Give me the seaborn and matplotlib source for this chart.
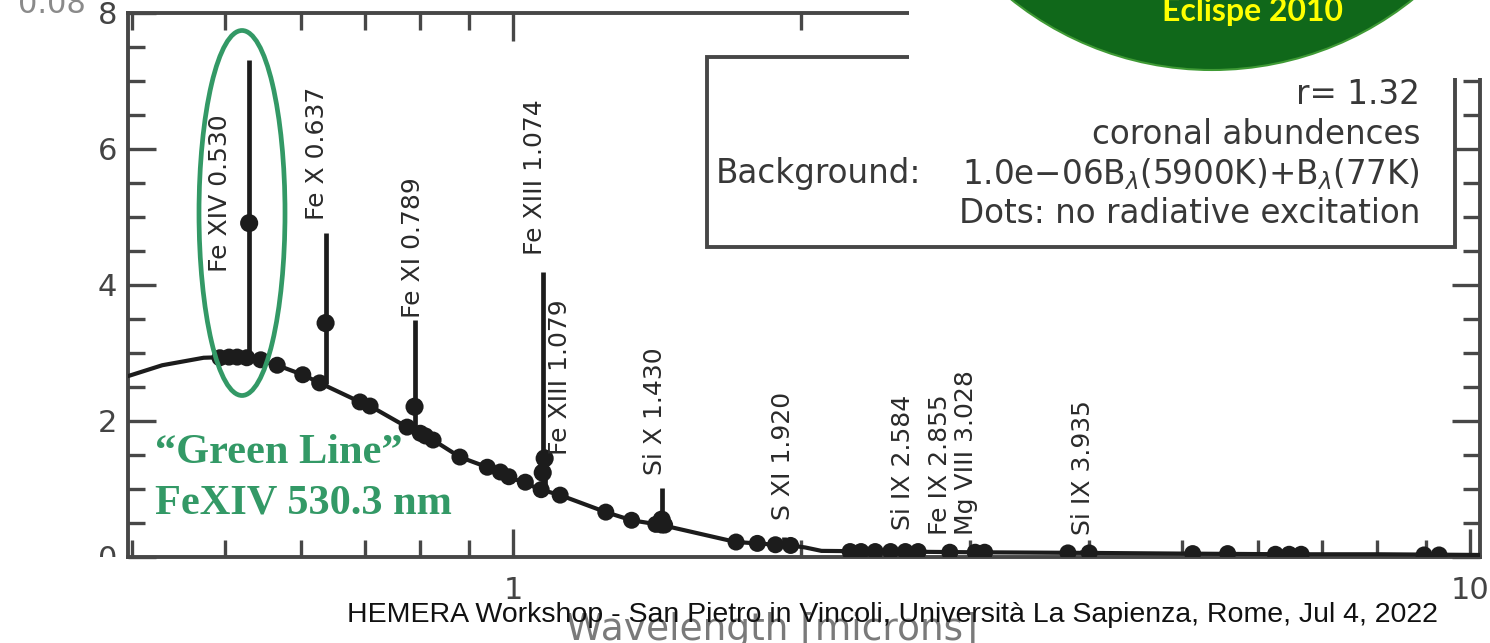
import numpy as np
import matplotlib
matplotlib.use("Agg")
import matplotlib.pyplot as plt
import seaborn as sns
from matplotlib.patches import Rectangle, Ellipse
from matplotlib.ticker import LogLocator, MultipleLocator, NullFormatter

# ---------------------------------------------------------------- data
# model continuum (wavelength in microns, brightness)
cont_wl = [0.396, 0.43, 0.475, 0.50, 0.527, 0.567, 0.603, 0.628, 0.692, 0.709,
           0.775, 0.825, 0.88, 0.94, 0.99, 1.07, 1.12, 1.25, 1.33, 1.43,
           1.71, 1.80, 1.88, 1.95, 2.02, 2.10, 2.5, 3.0, 4.0, 5.0, 6.5, 8.0, 10.24]
cont_val = [2.66, 2.82, 2.93, 2.94, 2.93, 2.82, 2.68, 2.56, 2.28, 2.22,
            1.91, 1.72, 1.47, 1.32, 1.18, 0.99, 0.91, 0.66, 0.54, 0.47,
            0.22, 0.20, 0.18, 0.17, 0.14, 0.09, 0.08, 0.07, 0.06, 0.05, 0.04, 0.04, 0.03]

# weak lines sitting on the continuum
weak_wl = [0.494, 0.505, 0.515, 0.527, 0.545, 0.567, 0.603, 0.628, 0.692, 0.709,
           0.775, 0.80, 0.81, 0.825, 0.88, 0.94, 0.97, 0.99, 1.03, 1.07, 1.12,
           1.25, 1.33, 1.41, 1.43, 1.44, 1.71, 1.80, 1.88, 1.95,
           2.25, 2.31, 2.39, 2.48, 2.57, 2.65, 2.86, 3.04, 3.11, 3.80, 4.00,
           5.13, 5.58, 6.26, 6.47, 6.66, 8.95, 9.28]
weak_val = [2.93, 2.94, 2.94, 2.93, 2.90, 2.82, 2.68, 2.56, 2.28, 2.22,
            1.91, 1.82, 1.78, 1.72, 1.47, 1.32, 1.25, 1.18, 1.10, 0.99, 0.91,
            0.66, 0.54, 0.48, 0.47, 0.47, 0.22, 0.20, 0.18, 0.17,
            0.08, 0.08, 0.08, 0.08, 0.08, 0.08, 0.07, 0.07, 0.07, 0.06, 0.06,
            0.05, 0.05, 0.04, 0.04, 0.04, 0.03, 0.03]

# strong coronal lines
line_names = ["Fe XIV 0.530", "Fe X 0.637", "Fe XI 0.789", "Fe XIII 1.074",
              "Fe XIII 1.079", "Si X 1.430", "S XI 1.920", "Si IX 2.584",
              "Fe IX 2.855", "Mg VIII 3.028", "Si IX 3.935"]
line_wl = [0.530, 0.637, 0.789, 1.074, 1.079, 1.430, 1.920, 2.584, 2.855, 3.028, 3.935]
line_base = [2.93, 2.55, 1.90, 1.00, 0.99, 0.47, 0.17, 0.08, 0.08, 0.08, 0.07]
line_top = [7.31, 4.76, 3.49, 4.19, 1.50, 1.01, 0.30, 0.12, 0.12, 0.12, 0.10]
# intensities without radiative excitation (dots on the lines)
norad_wl = [0.530, 0.637, 0.789, 1.074, 1.079, 1.430]
norad_val = [4.91, 3.44, 2.21, 1.24, 1.45, 0.55]

y_ticks = [0, 2, 4, 6, 8]
x_ticks = [1, 10]
x_tick_labels = ["1", "10"]

legend_lines = ["r= 1.32", "coronal abundences",
                "1.0e\u221206B$_\\lambda$(5900K)+B$_\\lambda$(77K)",
                "Dots: no radiative excitation"]
background_label = "Background:"
footer = "HEMERA Workshop - San Pietro in Vincoli, Universit\u00e0 La Sapienza, Rome, Jul 4, 2022"

# ---------------------------------------------------------------- layout
W, H, DPI = 1490, 643, 100
# label anchors (wavelength, lower end of the rotated text)
label_pos = [(0.494, 4.19), (0.624, 4.96), (0.786, 3.51), (1.054, 4.44),
             (1.12, 1.50), (1.407, 1.21), (1.915, 0.54), (2.556, 0.40),
             (2.794, 0.32), (2.974, 0.32), (3.94, 0.32)]


def fx(px):
    return px / W


def fy(py):
    return 1 - py / H


sns.set_theme(style="ticks")
plt.rcParams["font.family"] = ["DejaVu Sans"]
plt.rcParams["mathtext.fontset"] = "dejavusans"

ink = "#1c1c1c"
frame = "#474747"
green = "#339966"

fig = plt.figure(figsize=(W / DPI, H / DPI), dpi=DPI)
fig.patch.set_facecolor("white")
ax = fig.add_axes([fx(128), fy(557), fx(1480) - fx(128), fy(13) - fy(557)])
ax.set_facecolor("white")

sns.lineplot(x=cont_wl, y=cont_val, ax=ax, color=ink, linewidth=3.0, zorder=3)
sns.scatterplot(x=weak_wl, y=weak_val, ax=ax, color=ink, s=150, edgecolor="none",
                zorder=4, legend=False)
ax.vlines(line_wl, line_base, line_top, color=ink, linewidth=3.4, zorder=3)
sns.scatterplot(x=norad_wl, y=norad_val, ax=ax, color=ink, s=170, edgecolor="none",
                zorder=5, legend=False)

for name, (lx, ly) in zip(line_names, label_pos):
    ax.text(lx, ly, name, rotation=90, ha="center", va="bottom", fontsize=18,
            color="#2a2a2a", zorder=6)

ax.set_xscale("log")
ax.set_xlim(0.396, 10.24)
ax.set_ylim(0, 8)
ax.set_xticks(x_ticks, labels=x_tick_labels)
ax.xaxis.set_minor_locator(LogLocator(base=10, subs=np.arange(2, 10)))
ax.xaxis.set_minor_formatter(NullFormatter())
ax.set_yticks(y_ticks, labels=[str(v) for v in y_ticks])
ax.yaxis.set_minor_locator(MultipleLocator(0.5))
ax.tick_params(which="both", direction="in", top=True, right=True,
               color=frame, width=2.4)
ax.tick_params(which="major", length=20, labelsize=22, labelcolor="#444444")
ax.tick_params(which="minor", length=12)
ax.tick_params(axis="x", which="major", pad=14)
ax.tick_params(axis="y", which="major", pad=8)
for sp in ax.spines.values():
    sp.set_color(frame)
    sp.set_linewidth(2.8)

ax.set_xlabel("Wavelength [microns]", fontsize=27, color="#7a7a7a")
ax.xaxis.set_label_coords((772 - 128) / (1480 - 128), (557 - 630) / (557 - 13))
ax.xaxis.label.set_va("center")

# legend box
fig.add_artist(Rectangle((fx(707), fy(247)), fx(1455) - fx(707), fy(57) - fy(247),
                         transform=fig.transFigure, fc="white", ec=frame, lw=2.8))
for i, txt in enumerate(legend_lines):
    fig.text(fx(1420), fy(95 + 39.5 * i), txt, ha="right", va="center",
             fontsize=23.5, color="#383838")
fig.text(fx(716), fy(95 + 39.5 * 2), background_label, ha="left", va="center",
         fontsize=23.5, color="#383838")

# cropped label at the top-left corner
fig.text(fx(52), fy(13), "0.08", ha="center", va="baseline", fontsize=22,
         color="#8a8a8a")

# highlight of the green line
fig.add_artist(Ellipse((fx(242), fy(213)), 86 / W, 365 / H, transform=fig.transFigure,
                       fill=False, ec=green, lw=3.4))
serif = ["Liberation Serif", "DejaVu Serif"]
fig.text(fx(155), fy(463), "\u201cGreen Line\u201d", ha="left", va="baseline",
         fontsize=30.5, fontweight="bold", family=serif, color=green)
fig.text(fx(155), fy(513), "FeXIV 530.3 nm", ha="left", va="baseline",
         fontsize=30.5, fontweight="bold", family=serif, color=green)

# masks of the slide
fig.add_artist(Rectangle((fx(909), fy(78)), 1 - fx(909), 78 / H,
                         transform=fig.transFigure, fc="white", ec="none"))
fig.add_artist(Rectangle((0, 0), fx(125), fy(557), transform=fig.transFigure,
                         fc="white", ec="none"))

# eclipse badge
fig.add_artist(Ellipse((fx(1212), fy(-251)), 642 / W, 642 / H,
                       transform=fig.transFigure, fc="#10681a", ec="#3f9a35", lw=1.5,
                       clip_on=False))
fig.text(fx(1252), fy(21), "Eclispe 2010", ha="center", va="baseline", fontsize=23,
         fontweight="bold", family=["Lato", "DejaVu Sans"], color="#ffff00")

fig.text(fx(892), fy(615), footer, ha="center", va="center", fontsize=20.5,
         family=["Liberation Sans", "DejaVu Sans"], color="#111111")

fig.savefig("out.png", dpi=DPI, facecolor="white")
